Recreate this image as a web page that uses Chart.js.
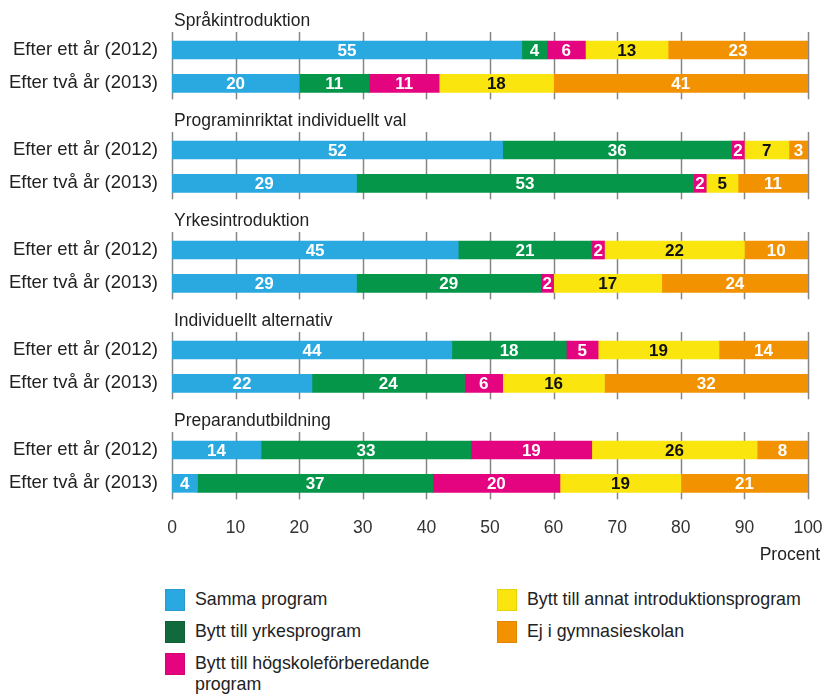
<!DOCTYPE html>
<html>
<head>
<meta charset="utf-8">
<script src="https://cdn.jsdelivr.net/npm/chart.js@4.4.1/dist/chart.umd.min.js"></script>
<style>
  html, body { margin: 0; padding: 0; background: #fff; }
  body { width: 825px; height: 696px; position: relative; overflow: hidden; font-family: "Liberation Sans", Arial, sans-serif; color: #222; }
  #wrap { position: absolute; left: 0; top: 0; width: 825px; height: 570px; }
  #legend { position: absolute; left: 165px; top: 589px; width: 660px; }
  .item { position: absolute; display: flex; align-items: flex-start; font-size: 17.8px; line-height: 21px; }
  .sw { width: 20px; height: 22px; margin-right: 10px; flex: none; box-sizing: border-box; border: 1px solid rgba(0,0,0,0.08); }
</style>
</head>
<body>
<div id="wrap"><canvas id="chart"></canvas></div>
<div id="legend"></div>
<script>
// === Data ===
const groups = ["Språkintroduktion", "Programinriktat individuellt val", "Yrkesintroduktion", "Individuellt alternativ", "Preparandutbildning"];
const years = ["Efter ett år (2012)", "Efter två år (2013)"];
const seriesNames = ["Samma program", "Bytt till yrkesprogram", "Bytt till högskoleförberedande program", "Bytt till annat introduktionsprogram", "Ej i gymnasieskolan"];

// one value per group and year: [g1 2012, g1 2013, g2 2012, ...]
const samma    = [55, 20, 52, 29, 45, 29, 44, 22, 14, 4];
const yrkes    = [4, 11, 36, 53, 21, 29, 18, 24, 33, 37];
const hogskole = [6, 11, 2, 2, 2, 2, 5, 6, 19, 20];
const annat    = [13, 18, 7, 5, 22, 17, 19, 16, 26, 19];
const ej       = [23, 41, 3, 11, 10, 24, 14, 32, 8, 21];

const xTicks = [0, 10, 20, 30, 40, 50, 60, 70, 80, 90, 100];

const colors = ["#2aa9e1", "#06964a", "#e4047f", "#fbe50e", "#f39200"];
const legendColors = ["#2aa9e1", "#11693c", "#e4047f", "#fbe50e", "#f39200"];
const labelColors = ["#fff", "#fff", "#fff", "#111", "#fff"];

// rows: a title row, then the two years, for every group
const rowLabels = [];
groups.forEach(g => { rowLabels.push(""); years.forEach(y => rowLabels.push(y)); });

function toRows(values) {
    const out = [];
    groups.forEach((g, i) => { out.push(null); out.push(values[2 * i]); out.push(values[2 * i + 1]); });
    return out;
}

const allSeries = [samma, yrkes, hogskole, annat, ej];
const FONT = "'Liberation Sans', Arial, sans-serif";

// no extra padding from the scales, the layout is set by hand
function noPad(s) {
    s.paddingTop = 0; s.paddingBottom = 0; s.paddingLeft = 0; s.paddingRight = 0;
}

// grid segments only around each pair of bars
const gridPlugin = {
    id: "groupGrid",
    beforeDatasetsDraw(chart) {
        const { ctx, scales: { x, y } } = chart;
        ctx.save();
        ctx.strokeStyle = "#858585";
        ctx.lineWidth = 1.5;
        groups.forEach((g, i) => {
            const top = y.getPixelForValue(3 * i + 1) - 18;
            const bottom = y.getPixelForValue(3 * i + 2) + 16;
            xTicks.forEach(t => {
                const px = Math.round(x.getPixelForValue(t)) + 0.5;
                ctx.beginPath();
                ctx.moveTo(px, top);
                ctx.lineTo(px, bottom);
                ctx.stroke();
            });
        });
        ctx.restore();
    },
    afterDatasetsDraw(chart) {
        const { ctx, chartArea, scales: { x, y } } = chart;
        ctx.save();
        // values inside the segments
        ctx.font = "bold 17px " + FONT;
        ctx.textAlign = "center";
        ctx.textBaseline = "middle";
        chart.data.datasets.forEach((ds, di) => {
            const meta = chart.getDatasetMeta(di);
            meta.data.forEach((bar, i) => {
                if (ds.data[i] == null) return;
                const right = Math.min(bar.x, chartArea.right);
                ctx.fillStyle = labelColors[di];
                ctx.fillText(ds.data[i], (right + bar.base) / 2, bar.y + 1);
            });
        });
        // group titles
        ctx.font = "17.5px " + FONT;
        ctx.fillStyle = "#222";
        ctx.textAlign = "left";
        groups.forEach((g, i) => {
            ctx.fillText(g, chartArea.left + 2, y.getPixelForValue(3 * i) + 5);
        });
        // axis unit
        ctx.font = "17.5px " + FONT;
        ctx.textAlign = "right";
        ctx.fillText("Procent", chartArea.right + 12, chartArea.bottom + 55);
        ctx.restore();
    }
};

new Chart(document.getElementById("chart"), {
    type: "bar",
    data: {
        labels: rowLabels,
        datasets: allSeries.map((vals, i) => ({
            label: seriesNames[i],
            data: toRows(vals),
            backgroundColor: colors[i],
            borderWidth: 0,
            barThickness: 18
        }))
    },
    options: {
        indexAxis: "y",
        responsive: true,
        maintainAspectRatio: false,
        animation: false,
        layout: { padding: { left: 0, right: 17, top: 0, bottom: 0 } },
        scales: {
            x: {
                stacked: true,
                min: 0,
                max: 100,
                afterBuildTicks: s => { s.ticks = xTicks.map(v => ({ value: v })); },
                afterFit: s => { s.height = 70; noPad(s); },
                grid: { display: false, drawTicks: false },
                border: { display: false },
                ticks: { color: "#333", padding: 18, maxRotation: 0, font: { size: 17.5, family: FONT } }
            },
            y: {
                stacked: true,
                afterFit: s => { s.width = 172; noPad(s); },
                grid: { display: false, drawTicks: false },
                border: { display: false },
                ticks: { color: "#222", padding: 14, autoSkip: false, font: { size: 18.5, family: FONT } }
            }
        },
        plugins: {
            legend: { display: false },
            tooltip: { enabled: false }
        }
    },
    plugins: [gridPlugin]
});

// === Legend ===
const legendPos = [[0, 0], [0, 32], [0, 64], [332, 0], [332, 32]];
const legend = document.getElementById("legend");
seriesNames.forEach((name, i) => {
    const item = document.createElement("div");
    item.className = "item";
    item.style.left = legendPos[i][0] + "px";
    item.style.top = legendPos[i][1] + "px";
    item.innerHTML = '<div class="sw" style="background:' + legendColors[i] + '"></div><div style="width:' + (i === 2 ? 260 : 300) + 'px">' + name + '</div>';
    legend.appendChild(item);
});
</script>
</body>
</html>
